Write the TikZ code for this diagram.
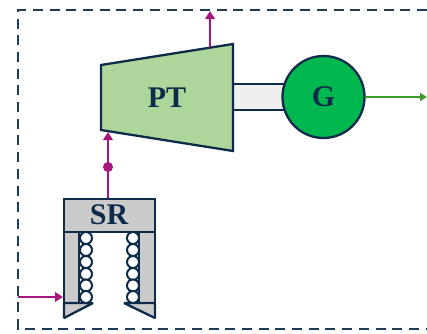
\documentclass[tikz,border=0pt]{standalone}
\usepackage{fontspec}
\setmainfont{Liberation Serif}
\usetikzlibrary{arrows.meta}
\definecolor{navy}{HTML}{0F2B4A}
\definecolor{dashnavy}{HTML}{1F3B57}
\definecolor{plum}{HTML}{A6167F}
\definecolor{leaf}{HTML}{3E9B2A}
\definecolor{ptgreen}{HTML}{AED69B}
\definecolor{gengreen}{HTML}{00B84F}
\definecolor{srgray}{HTML}{CBCBCB}
\definecolor{shaftgray}{HTML}{EFEFEF}
\tikzset{
  x=1pt,y=-1pt,
  part/.style={draw=navy,line width=2.3pt,line join=miter},
  lip/.style={draw=navy,fill=srgray,line width=2.3pt,line join=bevel},
  label/.style={font=\bfseries\fontsize{30}{30}\selectfont,text=navy,inner sep=0pt},
  plumarrow/.style={draw=plum,line width=2pt,-{Triangle[length=8pt,width=9.5pt]}},
  greenarrow/.style={draw=leaf,line width=1.8pt,-{Triangle[length=7pt,width=8pt]}},
  coil/.style={circle,draw=navy,fill=white,line width=2pt,minimum size=12pt,inner sep=0pt},
  boundary/.style={draw=dashnavy,line width=2pt,dash pattern=on 10pt off 6.7pt}
}
\begin{document}
\begin{tikzpicture}
\useasboundingbox (0,0) rectangle (427,333);
\draw[boundary] (427,10) -- (18,10) -- (18,329) -- (427,329);
% shaft
\draw[part,fill=shaftgray] (233,84) rectangle (290,110);
% turbine
\draw[part,fill=ptgreen] (101,65) -- (233,44) -- (233,151) -- (101,130) -- cycle;
\node[label] (pt) at (167,98) {PT};
% generator
\node[circle,part,fill=gengreen,minimum size=82pt,inner sep=0pt,outer sep=0pt] (g) at (323.5,97) {};
\node[label] at (g.center) {G};
% reformer
\draw[part,fill=srgray] (64,232) -- (64,303) -- (79,303) -- (79,232) -- cycle;
\draw[part,fill=srgray] (139,232) -- (139,303) -- (155,303) -- (155,232) -- cycle;
\draw[lip] (64,303) -- (93,303) -- (64,318) -- cycle;
\draw[lip] (155,303) -- (124,303) -- (155,318) -- cycle;
\foreach \i/\y in {1/238,2/250,3/262,4/274,5/285.5,6/297}{
  \node[coil] (l\i) at (86,\y) {};
  \node[coil] (r\i) at (133,\y) {};
}
\node[part,fill=srgray,minimum width=91pt,minimum height=33pt,inner sep=0pt,outer sep=0pt] (srbox) at (109.5,215.5) {};
\node[label] (sr) at (109,215) {SR};
% flows
\coordinate (ptout) at (210,47);
\coordinate (ptoutend) at (210,11);
\coordinate (ptin) at (108,132);
\coordinate (srin) at (18,297);
\coordinate (srinend) at (63,297);
\coordinate (srtop) at (108,198);
\node[circle,fill=plum,minimum size=10pt,inner sep=0pt] (dot) at (108,167) {};
\draw[plumarrow] (srtop) -- (ptin);
\draw[plumarrow] (ptout) -- (ptoutend);
\draw[plumarrow] (srin) -- (srinend);
\coordinate (out) at (427,97);
\draw[greenarrow] (g.east) -- (out);
\end{tikzpicture}
\end{document}
